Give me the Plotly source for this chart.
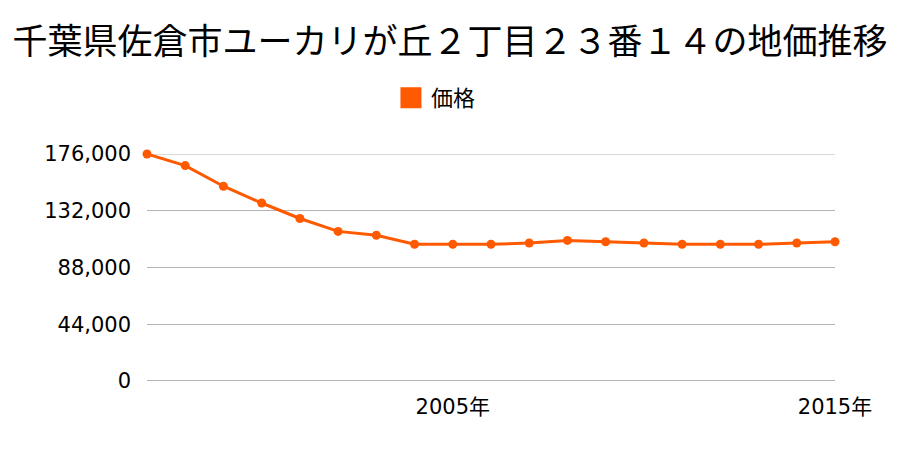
import plotly.graph_objects as go

years = list(range(1997, 2016))
prices = [176000, 167000, 151000, 138000, 126000, 116000, 113000, 106000, 106000, 106000,
          107000, 109000, 108000, 107000, 106000, 106000, 106000, 107000, 108000]
y_ticks = [0, 44000, 88000, 132000, 176000]
y_labels = ["0", "44,000", "88,000", "132,000", "176,000"]
x_ticks = [2005, 2015]
x_labels = ["2005年", "2015年"]
title = "千葉県佐倉市ユーカリが丘２丁目２３番１４の地価推移"
series_name = "価格"

color = "#ff5a00"
grid_color = "#b3b3b3"
font_family = "DejaVu Sans, Noto Sans CJK JP, sans-serif"

fig = go.Figure()
fig.add_trace(go.Scatter(
    x=years, y=prices, mode="lines+markers",
    line=dict(color=color, width=3),
    marker=dict(color=color, size=9),
    showlegend=False, cliponaxis=False, hoverinfo="x+y",
))
fig.add_trace(go.Scatter(
    x=[None], y=[None], mode="markers", name=series_name,
    marker=dict(symbol="square", color=color, size=16, line=dict(color=color, width=5)),
    showlegend=True,
))

shapes = [dict(type="line", xref="paper", yref="y", x0=0, x1=1, y0=0, y1=0,
               line=dict(color=grid_color, width=2), layer="below"),
          dict(type="line", xref="paper", yref="y", x0=0, x1=1, y0=y_ticks[-1], y1=y_ticks[-1],
               line=dict(color=grid_color, width=1), layer="below")]

fig.update_layout(
    width=900, height=450,
    paper_bgcolor="white", plot_bgcolor="white",
    margin=dict(l=147, r=65, t=154, b=69),
    title=dict(text=title, x=0.5, xanchor="center", y=1 - 42 / 450, yanchor="middle",
               font=dict(family="Noto Sans CJK JP", size=35, color="#000")),
    legend=dict(orientation="h", x=0.42, xanchor="center", y=1 + (154 - 98) / 227, yanchor="middle",
                font=dict(family="Noto Sans CJK JP", size=22, color="#000"),
                itemwidth=30, bgcolor="rgba(0,0,0,0)"),
    xaxis=dict(range=[1997, 2015], tickvals=x_ticks, ticktext=x_labels,
               showgrid=False, zeroline=False, showline=False,
               ticks="", tickfont=dict(family=font_family, size=21, color="#000"),
               ticklabelstandoff=11),
    yaxis=dict(range=[0, 176000], tickvals=y_ticks, ticktext=y_labels,
               showgrid=True, gridcolor=grid_color, gridwidth=1,
               zeroline=False, showline=False, ticks="",
               tickfont=dict(family=font_family, size=21, color="#000"),
               ticklabelstandoff=15),
    shapes=shapes,
)

fig.write_html("out.html")
